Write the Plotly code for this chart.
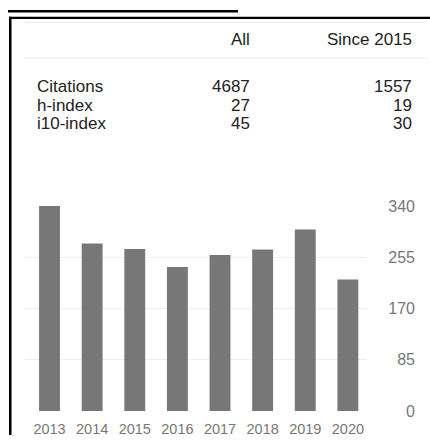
import plotly.graph_objects as go

# ---- data ----
years = [2013, 2014, 2015, 2016, 2017, 2018, 2019, 2020]
citations = [340, 278, 269, 239, 259, 268, 301, 218]
y_ticks = [0, 85, 170, 255, 340]

col_headers = ["All", "Since 2015"]
row_labels = ["Citations", "h-index", "i10-index"]
all_values = [4687, 27, 45]
since_values = [1557, 19, 30]

W, H = 430, 444
def px(x):
    return x / W
def py(y):
    return 1 - y / H

FONT = "Liberation Sans, Arial, Helvetica, sans-serif"

fig = go.Figure()
fig.add_trace(go.Bar(
    x=years, y=citations, width=0.49,
    marker=dict(color="#777777", line=dict(width=0)),
    hoverinfo="x+y",
))

shapes = [
    # top black bar
    dict(type="rect", xref="paper", yref="paper", x0=px(8), x1=px(238), y0=py(4.7), y1=py(2),
         fillcolor="black", line=dict(width=0)),
    # frame top
    dict(type="rect", xref="paper", yref="paper", x0=px(9), x1=px(430), y0=py(11.5), y1=py(9),
         fillcolor="black", line=dict(width=0)),
    # frame left
    dict(type="rect", xref="paper", yref="paper", x0=px(9), x1=px(11.5), y0=py(444), y1=py(9),
         fillcolor="black", line=dict(width=0)),
    # light separators
    dict(type="line", xref="paper", yref="paper", x0=px(25), x1=px(426), y0=py(15), y1=py(15),
         line=dict(color="#e8e8e8", width=1)),
    dict(type="line", xref="paper", yref="paper", x0=px(25), x1=px(426), y0=py(52), y1=py(52),
         line=dict(color="#e8e8e8", width=1)),
]

annotations = []
header_x = [252, 414]
for h, xr in zip(col_headers, header_x):
    annotations.append(dict(text=h, xref="paper", yref="paper", x=px(xr), y=py(33),
                            xanchor="right", yanchor="middle", showarrow=False,
                            font=dict(family=FONT, size=17, color="#222222")))
row_y = [82, 101, 120]
for lab, a, s, yy in zip(row_labels, all_values, since_values, row_y):
    annotations.append(dict(text=lab, xref="paper", yref="paper", x=px(35), y=py(yy),
                            xanchor="left", yanchor="middle", showarrow=False,
                            font=dict(family=FONT, size=17, color="#222222")))
    annotations.append(dict(text=str(a), xref="paper", yref="paper", x=px(252), y=py(yy),
                            xanchor="right", yanchor="middle", showarrow=False,
                            font=dict(family=FONT, size=17, color="#222222")))
    annotations.append(dict(text=str(s), xref="paper", yref="paper", x=px(414), y=py(yy),
                            xanchor="right", yanchor="middle", showarrow=False,
                            font=dict(family=FONT, size=17, color="#222222")))

fig.update_layout(
    width=W, height=H,
    margin=dict(l=0, r=0, t=0, b=0),
    paper_bgcolor="white", plot_bgcolor="white",
    showlegend=False,
    shapes=shapes,
    annotations=annotations,
    xaxis=dict(
        domain=[px(25), px(366)],
        range=[2012.425, 2020.425],
        tickvals=years, ticktext=[str(y) for y in years],
        showgrid=False, zeroline=False, showline=False, ticks="",
        tickfont=dict(family=FONT, size=14.5, color="#777777"),
        ticklabelstandoff=8,
        fixedrange=True,
    ),
    yaxis=dict(
        domain=[py(419), py(206)],
        range=[0, 340],
        tickvals=y_ticks,
        anchor="free", position=px(415), side="left",
        showgrid=True, gridcolor="#eeeeee", gridwidth=1,
        zeroline=False, showline=False, ticks="",
        tickfont=dict(family=FONT, size=16, color="#777777"),
        fixedrange=True,
    ),
    bargap=0.5,
)

post = (
    "document.documentElement.style.margin='0';"
    "document.body.style.margin='0';document.body.style.overflow='hidden';"
    "var gd=document.getElementById('{plot_id}');"
    "gd.style.position='fixed';gd.style.left='0px';gd.style.top='0px';"
)

fig.write_html("out.html", post_script=post, config={"displayModeBar": False})
